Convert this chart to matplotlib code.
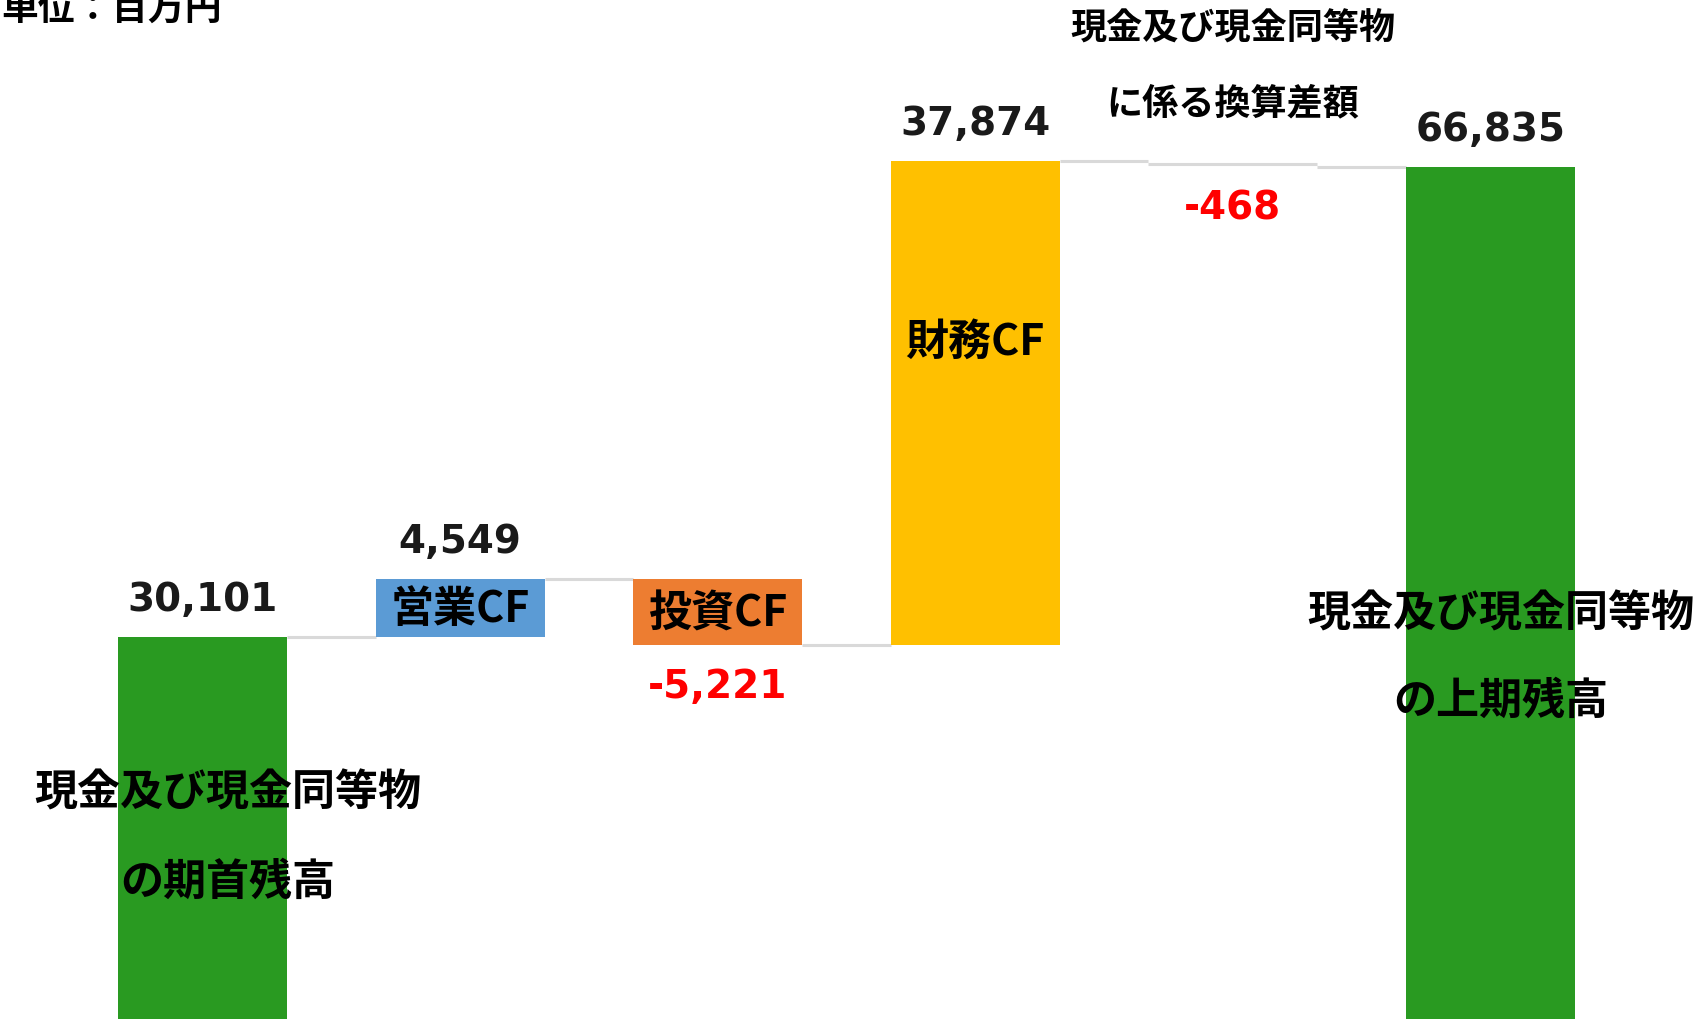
import matplotlib
matplotlib.use("Agg")
import matplotlib.pyplot as plt

plt.rcParams['font.family'] = ['Noto Sans CJK JP', 'DejaVu Sans']

# ---- data ----
categories = ["現金及び現金同等物\nの期首残高", "営業CF", "投資CF", "財務CF",
              "現金及び現金同等物\nに係る換算差額", "現金及び現金同等物\nの上期残高"]
values = [30101, 4549, -5221, 37874, -468, 66835]
kinds = ["total", "delta", "delta", "delta", "delta", "total"]
value_labels = ["30,101", "4,549", "-5,221", "37,874", "-468", "66,835"]
colors = ["#299a21", "#5b9bd5", "#ed7d31", "#ffc000", "none", "#299a21"]
unit_label = "単位：百万円"

# ---- compute waterfall ----
bottoms, tops = [], []
running = 0
for v, k in zip(values, kinds):
    if k == "total":
        bottoms.append(0)
        tops.append(v)
        running = v
    else:
        bottoms.append(running)
        running += v
        tops.append(running)

fig = plt.figure(figsize=(17.04, 10.2), dpi=100)
ax = fig.add_axes([0, 0, 1, 1])
ax.set_xlim(-0.786, 5.829)
ax.set_ylim(196, 80014)
ax.axis("off")

width = 0.656
x = list(range(len(values)))
heights = [t - b for t, b in zip(tops, bottoms)]
ax.bar(x, heights, bottom=bottoms, width=width, color=colors, linewidth=0, zorder=2)

# connector lines
line_color = "#d9d9d9"
for i in range(len(values) - 1):
    ax.plot([i + width / 2, i + 1 - width / 2], [tops[i], tops[i]],
            color=line_color, lw=2.2, solid_capstyle="butt", zorder=1)
# thin (invisible-fill) bar drawn as line
for i, c in enumerate(colors):
    if c == "none":
        mid = (tops[i] + bottoms[i]) / 2
        ax.plot([i - width / 2, i + width / 2], [mid, mid],
                color=line_color, lw=2.2, solid_capstyle="butt", zorder=1)

# value labels
for i, (v, lab) in enumerate(zip(values, value_labels)):
    top_edge = max(tops[i], bottoms[i])
    low_edge = min(tops[i], bottoms[i])
    if v >= 0:
        ax.annotate(lab, (i, top_edge), xytext=(0, 19.5), textcoords="offset points",
                    ha="center", va="baseline", fontsize=28, fontweight="bold",
                    family="DejaVu Sans", color="#1a1a1a")
    else:
        ax.annotate(lab, (i, low_edge), xytext=(0, -37), textcoords="offset points",
                    ha="center", va="baseline", fontsize=28, fontweight="bold",
                    family="DejaVu Sans", color="#ff0000")

# category labels
big = 31
# start balance
l1, l2 = categories[0].split("\n")
ax.text(0.099, 18000, l1, ha="center", va="center", fontsize=big, fontweight="bold", zorder=3)
ax.text(0.099, 11000, l2, ha="center", va="center", fontsize=big, fontweight="bold", zorder=3)
# deltas inside bars
for i in (1, 2):
    ax.text(i, (tops[i] + bottoms[i]) / 2, categories[i], ha="center", va="center",
            fontsize=big, fontweight="bold", zorder=3)
ax.text(3, 53300, categories[3], ha="center", va="center", fontsize=big,
        fontweight="bold", zorder=3)
# FX label at top
l1, l2 = categories[4].split("\n")
ax.text(4, 77700, l1, ha="center", va="center", fontsize=26, fontweight="bold", zorder=3)
ax.text(4, 71900, l2, ha="center", va="center", fontsize=26, fontweight="bold", zorder=3)
# end balance
l1, l2 = categories[5].split("\n")
ax.text(5.04, 32000, l1, ha="center", va="center", fontsize=big, fontweight="bold", zorder=3)
ax.text(5.04, 25200, l2, ha="center", va="center", fontsize=big, fontweight="bold", zorder=3)

# unit
fig.text(0.001, 1 - 9 / 1020, unit_label, ha="left", va="center", fontsize=26.5,
         fontweight="bold")

fig.savefig("out.png", dpi=100)
